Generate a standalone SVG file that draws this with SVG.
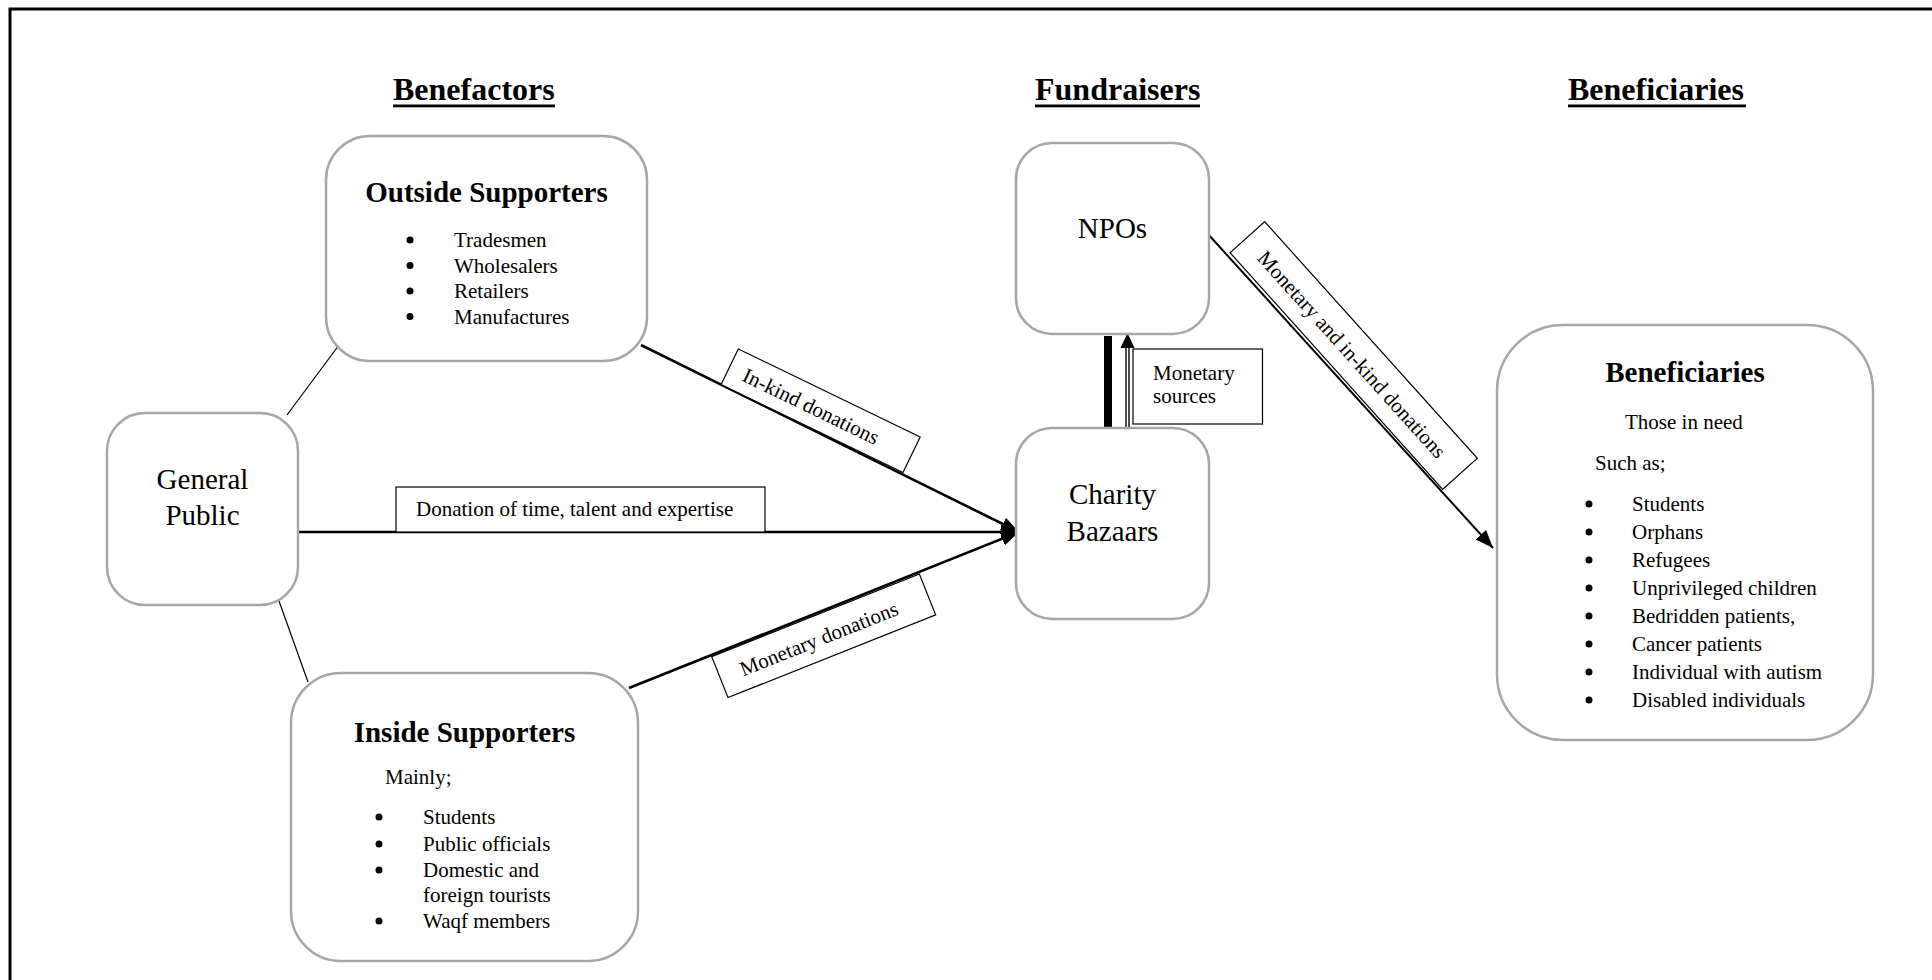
<svg xmlns="http://www.w3.org/2000/svg" width="1932" height="980" viewBox="0 0 1932 980">
  <style>
    text { font-family: "Liberation Serif", "Times New Roman", serif; fill: #000; }
    .head { font-size: 32px; font-weight: bold; }
    .title { font-size: 29px; font-weight: bold; text-anchor: middle; }
    .big { font-size: 29px; text-anchor: middle; }
    .item { font-size: 21px; }
    .lbl { font-size: 21px; }
    .box { fill: #fff; stroke: #a6a6a6; stroke-width: 2.5; }
    .tag { fill: #fff; stroke: #000; stroke-width: 1.2; }
    .thin { stroke: #000; stroke-width: 1.2; fill: none; }
    .flow { stroke: #000; stroke-width: 2.6; fill: none; marker-end: url(#arrow); }
    .dot { fill: #000; }
  </style>
  <defs>
    <marker id="arrow" markerUnits="userSpaceOnUse" markerWidth="19" markerHeight="15" refX="18" refY="7" orient="auto">
      <path d="M0,0 L18,7 L0,14 z" fill="#000"/>
    </marker>
  </defs>

  <rect x="0" y="0" width="1932" height="980" fill="#fff"/>
  <!-- page frame (left and top edges) -->
  <path d="M10,980 V9 H1932" fill="none" stroke="#000" stroke-width="3"/>

  <!-- column headings -->
  <g id="headings">
    <text class="head" x="393" y="100">Benefactors</text>
    <rect x="393" y="104.5" width="162" height="2.8"/>
    <text class="head" x="1035" y="100">Fundraisers</text>
    <rect x="1035" y="104.5" width="165" height="2.8"/>
    <text class="head" x="1568" y="100">Beneficiaries</text>
    <rect x="1568" y="104.5" width="178" height="2.8"/>
  </g>

  <!-- connectors -->
  <g id="connectors">
    <line class="thin" x1="287" y1="415" x2="339" y2="345"/>
    <line class="thin" x1="279" y1="601" x2="308" y2="682"/>
    <line class="flow" x1="641" y1="345" x2="1019" y2="532"/>
    <line class="flow" x1="298" y1="532" x2="1019" y2="532"/>
    <line class="flow" x1="629" y1="688" x2="1019" y2="532"/>
    <line x1="1207" y1="233" x2="1493" y2="548" stroke="#000" stroke-width="2" marker-end="url(#arrow)"/>
    <!-- link between the bazaars and the NPOs -->
    <rect x="1104" y="336" width="8" height="92" fill="#000"/>
    <line x1="1127.5" y1="428" x2="1127.5" y2="346" stroke="#000" stroke-width="4.4"/>
    <line x1="1127.5" y1="428" x2="1127.5" y2="346" stroke="#fff" stroke-width="1.6"/>
    <path d="M1120.5,348 L1127.5,333 L1134.5,348 z" fill="#000"/>
  </g>

  <!-- connector labels -->
  <g id="labels">
    <rect class="tag" x="396" y="487" width="369" height="45"/>
    <text class="lbl" x="416" y="516">Donation of time, talent and expertise</text>

    <g transform="translate(738.3,349) rotate(25.8)">
      <rect class="tag" x="0" y="0" width="202" height="39.5"/>
      <text class="lbl" x="16" y="27">In-kind donations</text>
    </g>

    <g transform="translate(711.7,656.7) rotate(-21.7)">
      <rect class="tag" x="0" y="0" width="223.5" height="44"/>
      <text class="lbl" x="22" y="30">Monetary donations</text>
    </g>

    <g transform="translate(1264.7,221.7) rotate(48.05)">
      <rect class="tag" x="0" y="0" width="318" height="46.5"/>
      <text class="lbl" x="22" y="31">Monetary and in-kind donations</text>
    </g>

    <rect class="tag" x="1133" y="349" width="129.5" height="75"/>
    <text class="lbl" x="1153" y="380">Monetary</text>
    <text class="lbl" x="1153" y="403">sources</text>
  </g>

  <!-- benefactors -->
  <g id="outside-supporters">
    <rect class="box" x="326" y="136" width="321" height="225" rx="44"/>
    <text class="title" x="486.5" y="202">Outside Supporters</text>
    <circle class="dot" cx="410" cy="240" r="3.5"/>
    <circle class="dot" cx="410" cy="265.5" r="3.5"/>
    <circle class="dot" cx="410" cy="291" r="3.5"/>
    <circle class="dot" cx="410" cy="316.5" r="3.5"/>
    <text class="item" x="454" y="247">Tradesmen</text>
    <text class="item" x="454" y="272.5">Wholesalers</text>
    <text class="item" x="454" y="298">Retailers</text>
    <text class="item" x="454" y="323.5">Manufactures</text>
  </g>

  <g id="general-public">
    <rect class="box" x="107" y="413" width="191" height="192" rx="38"/>
    <text class="big" x="202.5" y="489">General</text>
    <text class="big" x="202.5" y="525">Public</text>
  </g>

  <g id="inside-supporters">
    <rect class="box" x="291" y="673" width="347" height="288" rx="50"/>
    <text class="title" x="464.5" y="742">Inside Supporters</text>
    <text class="item" x="385" y="784">Mainly;</text>
    <circle class="dot" cx="379" cy="817" r="3.5"/>
    <circle class="dot" cx="379" cy="844" r="3.5"/>
    <circle class="dot" cx="379" cy="870" r="3.5"/>
    <circle class="dot" cx="379" cy="921" r="3.5"/>
    <text class="item" x="423" y="824">Students</text>
    <text class="item" x="423" y="851">Public officials</text>
    <text class="item" x="423" y="877">Domestic and</text>
    <text class="item" x="423" y="902">foreign tourists</text>
    <text class="item" x="423" y="928">Waqf members</text>
  </g>

  <!-- fundraisers -->
  <g id="npos">
    <rect class="box" x="1016" y="143" width="193" height="191" rx="36"/>
    <text class="big" x="1112.5" y="238">NPOs</text>
  </g>

  <g id="charity-bazaars">
    <rect class="box" x="1016" y="428" width="193" height="191" rx="36"/>
    <text class="big" x="1112.5" y="504">Charity</text>
    <text class="big" x="1112.5" y="541">Bazaars</text>
  </g>

  <!-- beneficiaries -->
  <g id="beneficiaries">
    <rect class="box" x="1497" y="325" width="376" height="415" rx="66"/>
    <text class="title" x="1685" y="382">Beneficiaries</text>
    <text class="item" x="1625" y="429">Those in need</text>
    <text class="item" x="1595" y="470">Such as;</text>
    <g class="dot">
      <circle cx="1589" cy="504" r="3.5"/>
      <circle cx="1589" cy="532" r="3.5"/>
      <circle cx="1589" cy="560" r="3.5"/>
      <circle cx="1589" cy="588" r="3.5"/>
      <circle cx="1589" cy="616" r="3.5"/>
      <circle cx="1589" cy="644" r="3.5"/>
      <circle cx="1589" cy="672" r="3.5"/>
      <circle cx="1589" cy="700" r="3.5"/>
    </g>
    <text class="item" x="1632" y="511">Students</text>
    <text class="item" x="1632" y="539">Orphans</text>
    <text class="item" x="1632" y="567">Refugees</text>
    <text class="item" x="1632" y="595">Unprivileged children</text>
    <text class="item" x="1632" y="623">Bedridden patients,</text>
    <text class="item" x="1632" y="651">Cancer patients</text>
    <text class="item" x="1632" y="679">Individual with autism</text>
    <text class="item" x="1632" y="707">Disabled individuals</text>
  </g>
</svg>
